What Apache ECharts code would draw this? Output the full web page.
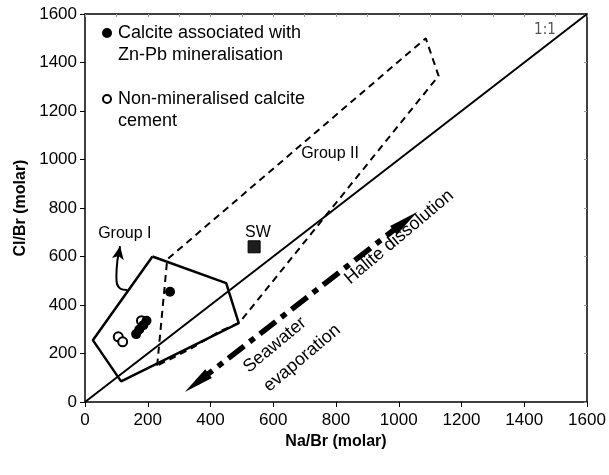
<!DOCTYPE html>
<html>
<head>
<meta charset="utf-8">
<script src="https://cdn.jsdelivr.net/npm/echarts@6/dist/echarts.min.js"></script>
<style>html,body{margin:0;padding:0;background:#fff}#c{width:609px;height:475px}</style>
</head>
<body>
<div id="c"></div>
<script>
// ---- data ----
var xTicks = [0, 200, 400, 600, 800, 1000, 1200, 1400, 1600];
var yTicks = [0, 200, 400, 600, 800, 1000, 1200, 1400, 1600];
var mineralised = [[271, 455], [163, 280], [173, 299], [186, 317], [196, 335]];
var nonMineralised = [[106, 269], [120, 248], [180, 335]];
var seawater = [[539, 640]];
var oneToOne = [[0, 0], [1600, 1600]];
var groupI = [[215, 600], [450, 490], [490, 325], [115, 85], [25, 255], [215, 600]];
var groupII = [[230, 150], [262, 588], [1086, 1500], [1127, 1345], [492, 327], [430, 292], [335, 218], [230, 150]];
var trendArrow = [[356, 79], [1021, 746]];
var groupIArrow = [[135, 462], [112, 468], [100, 515], [103, 580], [112, 642]];
var annotations = [
  { name: '1:1', value: [1466, 1532], rotate: 0 },
  { name: 'Group II', value: [781, 1026], rotate: 0 },
  { name: 'Group I', value: [127, 696], rotate: 0 },
  { name: 'SW', value: [551, 697], rotate: 0 },
  { name: 'Halite dissolution', value: [1001, 680], rotate: 40 },
  { name: 'Seawater', value: [605, 235], rotate: 40 },
  { name: 'evaporation', value: [692, 181], rotate: 40 }
];
var legendItems = ['Calcite associated with\nZn-Pb mineralisation', 'Non-mineralised calcite\ncement'];

var FONT = "'Liberation Sans', Arial, sans-serif";
var chart = echarts.init(document.getElementById('c'), null, { renderer: 'canvas' });

function annoData() {
  return annotations.map(function (a) {
    var isOne = a.name === '1:1';
    return {
      name: a.name, value: a.value,
      label: {
        rotate: a.rotate,
        fontSize: isOne ? 15 : (a.name.indexOf('Group') === 0 || a.name === 'SW' ? 16 : 18),
        fontFamily: isOne ? "'Liberation Sans Narrow', 'DejaVu Sans Condensed', sans-serif" : FONT,
        color: isOne ? '#555' : '#000'
      }
    };
  });
}

function curvedArrowData() {
  var n = groupIArrow.length;
  return groupIArrow.map(function (p, i) {
    if (i === n - 1) {
      return { value: p, symbol: 'arrow', symbolSize: [9, 13], symbolRotate: -10,
        itemStyle: { color: '#000', opacity: 1 } };
    }
    return { value: p, symbol: 'none' };
  });
}

var option = {
  animation: false,
  backgroundColor: '#fff',
  grid: { left: 85, right: 22, top: 14, bottom: 73 },
  xAxis: [{
    type: 'value', min: 0, max: 1600, interval: 200,
    name: 'Na/Br (molar)', nameLocation: 'middle', nameGap: 32,
    nameTextStyle: { fontFamily: FONT, fontWeight: 'bold', fontSize: 16, color: '#000' },
    axisLine: { show: true, lineStyle: { color: '#000', width: 1.5 } },
    axisTick: { show: true, length: 5, lineStyle: { color: '#000', width: 1 } },
    axisLabel: { fontFamily: FONT, fontSize: 17, color: '#000', margin: 10,
      formatter: function (v) { return xTicks.indexOf(v) >= 0 ? String(v) : ''; } },
    splitLine: { show: false }
  }, {
    type: 'value', min: 0, max: 1600, interval: 100, position: 'top',
    axisLine: { show: true, onZero: false, lineStyle: { color: '#000', width: 1.5 } },
    axisTick: { show: true, inside: true, length: 3, lineStyle: { color: '#999' } },
    axisLabel: { show: false }, splitLine: { show: false }
  }],
  yAxis: [{
    type: 'value', min: 0, max: 1600, interval: 200,
    name: 'Cl/Br (molar)', nameLocation: 'middle', nameGap: 52,
    nameTextStyle: { fontFamily: FONT, fontWeight: 'bold', fontSize: 16, color: '#000' },
    axisLine: { show: true, lineStyle: { color: '#000', width: 1.5 } },
    axisTick: { show: true, length: 5, lineStyle: { color: '#000', width: 1 } },
    axisLabel: { fontFamily: FONT, fontSize: 17, color: '#000', margin: 8,
      formatter: function (v) { return yTicks.indexOf(v) >= 0 ? String(v) : ''; } },
    splitLine: { show: false }
  }, {
    type: 'value', min: 0, max: 1600, interval: 200, position: 'right',
    axisLine: { show: true, onZero: false, lineStyle: { color: '#000', width: 1.5 } },
    axisTick: { show: true, inside: true, length: 3, lineStyle: { color: '#999' } },
    axisLabel: { show: false }, splitLine: { show: false }
  }],
  series: [
    { type: 'line', data: oneToOne, symbol: 'none', lineStyle: { color: '#000', width: 2 }, z: 2, silent: true },
    { type: 'line', data: groupI, symbol: 'none', lineStyle: { color: '#000', width: 2.5 }, z: 3, silent: true },
    { type: 'line', data: groupII, symbol: 'none', lineStyle: { color: '#000', width: 2, type: [7, 5] }, z: 3, silent: true },
    { type: 'line', data: curvedArrowData(), smooth: 0.5, symbol: 'none', showSymbol: true,
      lineStyle: { color: '#000', width: 2 }, itemStyle: { color: '#000' }, z: 4, silent: true },
    {
      type: 'line', data: [], symbol: 'none', silent: true,
      markLine: {
        silent: true, animation: false, label: { show: false },
        symbol: ['triangle', 'triangle'], symbolSize: [11, 30],
        data: [
          [{ coord: trendArrow[0] }, { coord: trendArrow[1] }]
        ],
        lineStyle: { color: '#000', width: 5.5, type: [20, 7, 6, 7] }
      }
    },
    { type: 'scatter', name: legendItems[1], data: nonMineralised, symbol: 'circle', symbolSize: 9,
      itemStyle: { color: '#fff', borderColor: '#000', borderWidth: 2, opacity: 1 }, z: 5 },
    { type: 'scatter', name: legendItems[0], data: mineralised, symbol: 'circle', symbolSize: 10,
      itemStyle: { color: '#000', opacity: 1 }, z: 6 },
    { type: 'scatter', name: 'SW', data: seawater, symbol: 'rect', symbolSize: 12,
      itemStyle: { color: '#1e1e1e', borderColor: '#000', borderWidth: 1, opacity: 1 }, z: 5 },
    { type: 'scatter', data: annoData(), symbolSize: 0, silent: true, z: 7,
      itemStyle: { opacity: 1 },
      label: { show: true, position: 'inside', formatter: '{b}', align: 'center', verticalAlign: 'middle' } }
  ],
  graphic: [
    { type: 'circle', shape: { cx: 107, cy: 33, r: 5 }, style: { fill: '#000' } },
    { type: 'text', left: 118, top: 22, style: { text: legendItems[0], font: '18px ' + FONT, fill: '#000', lineHeight: 22 } },
    { type: 'circle', shape: { cx: 107, cy: 99, r: 4 }, style: { fill: '#fff', stroke: '#000', lineWidth: 2 } },
    { type: 'text', left: 118, top: 88, style: { text: legendItems[1], font: '18px ' + FONT, fill: '#000', lineHeight: 22 } }
  ]
};
chart.setOption(option);
</script>
</body>
</html>
